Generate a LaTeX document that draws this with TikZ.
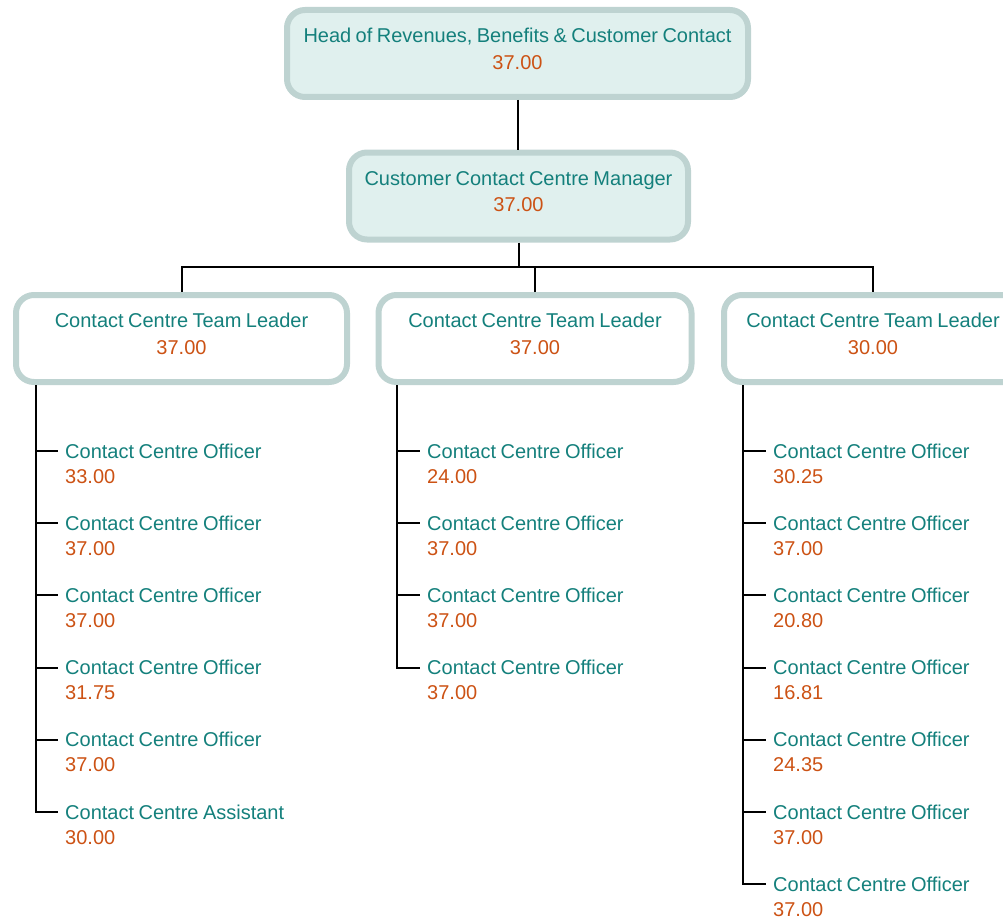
\documentclass[tikz,border=0pt]{standalone}
\usepackage{fontspec}
\setmainfont{Liberation Sans}[WordSpace=0.8]
\usetikzlibrary{calc}
\definecolor{tealtxt}{RGB}{20,128,124}
\definecolor{orangetxt}{RGB}{204,82,20}
\definecolor{boxline}{RGB}{190,211,209}
\definecolor{boxfill}{RGB}{224,240,238}
\begin{document}
\begin{tikzpicture}[x=1pt,y=-1pt,
  box/.style={draw=boxline, line width=6pt, rounded corners=18pt, minimum height=87pt, inner sep=0pt},
  topbox/.style={box, fill=boxfill},
  leadbox/.style={box, fill=white},
  boxtext/.style={align=center, inner sep=0pt, font=\fontsize{20}{26.5}\selectfont, yshift=4.6pt},
  title/.style={anchor=west, inner sep=0pt, text height=14pt, text depth=0pt, text=tealtxt, font=\fontsize{20}{26}\selectfont},
  value/.style={anchor=west, inner sep=0pt, text height=14pt, text depth=0pt, text=orangetxt, font=\fontsize{20}{26}\selectfont},
  conn/.style={draw=black, line width=2pt}
]
\useasboundingbox (0,0) rectangle (1003,923);
\clip (0,0) rectangle (1003,923);
\newcommand{\boxlabel}[2]{\textcolor{tealtxt}{#1}\\\textcolor{orangetxt}{#2}}

% boxes
\node[topbox, minimum width=461pt] (head) at (517.5,53.5) {};
\node[boxtext] (headt) at (head.center) {\boxlabel{Head of Revenues, Benefits \& Customer Contact}{37.00}};
\node[topbox, minimum width=339pt] (mgr) at (518.5,196) {};
\node[boxtext] (mgrt) at (mgr.center) {\boxlabel{Customer Contact Centre Manager}{37.00}};
\node[leadbox, minimum width=331pt] (tl1) at (181.5,338.5) {};
\node[boxtext] (tl1t) at (tl1.center) {\boxlabel{Contact Centre Team Leader}{37.00}};
\node[leadbox, minimum width=313pt] (tl2) at (535,338.5) {};
\node[boxtext] (tl2t) at (tl2.center) {\boxlabel{Contact Centre Team Leader}{37.00}};
\node[leadbox, minimum width=298pt] (tl3) at (873,338.5) {};
\node[boxtext] (tl3t) at (tl3.center) {\boxlabel{Contact Centre Team Leader}{30.00}};

% upper connectors
\draw[conn] (head.south) -- (head.south |- mgr.north);
\coordinate (bus) at ($(mgr.south)+(0,24)$);
\draw[conn] (mgr.south) -- (bus);
\draw[conn] (tl1.north) |- (bus) -| (tl3.north);
\draw[conn] (tl2.north) -- (tl2.north |- bus);

% children
\foreach \t/\v [count=\i from 0] in {Contact Centre Officer/33.00, Contact Centre Officer/37.00, Contact Centre Officer/37.00, Contact Centre Officer/31.75, Contact Centre Officer/37.00, Contact Centre Assistant/30.00}{
  \node[title] (L\i) at (65,{451+72.2*\i}) {\t};
  \node[value] (Lv\i) at (65,{476+72.2*\i}) {\v};
}
\foreach \t/\v [count=\i from 0] in {Contact Centre Officer/24.00, Contact Centre Officer/37.00, Contact Centre Officer/37.00, Contact Centre Officer/37.00}{
  \node[title] (M\i) at (427,{451+72.2*\i}) {\t};
  \node[value] (Mv\i) at (427,{476+72.2*\i}) {\v};
}
\foreach \t/\v [count=\i from 0] in {Contact Centre Officer/30.25, Contact Centre Officer/37.00, Contact Centre Officer/20.80, Contact Centre Officer/16.81, Contact Centre Officer/24.35, Contact Centre Officer/37.00, Contact Centre Officer/37.00}{
  \node[title] (R\i) at (773,{451+72.2*\i}) {\t};
  \node[value] (Rv\i) at (773,{476+72.2*\i}) {\v};
}

% trunks
\coordinate (T1) at (36,0 |- tl1.south);
\coordinate (T2) at (397,0 |- tl2.south);
\coordinate (T3) at (743,0 |- tl3.south);
\draw[conn, shorten >=7pt] (T1) |- (L5.west);
\draw[conn, shorten >=7pt] (T2) |- (M3.west);
\draw[conn, shorten >=7pt] (T3) |- (R6.west);
\foreach \i in {0,...,4}{\draw[conn, shorten >=7pt] (T1 |- L\i.west) -- (L\i.west);}
\foreach \i in {0,...,2}{\draw[conn, shorten >=7pt] (T2 |- M\i.west) -- (M\i.west);}
\foreach \i in {0,...,5}{\draw[conn, shorten >=7pt] (T3 |- R\i.west) -- (R\i.west);}
\end{tikzpicture}
\end{document}
